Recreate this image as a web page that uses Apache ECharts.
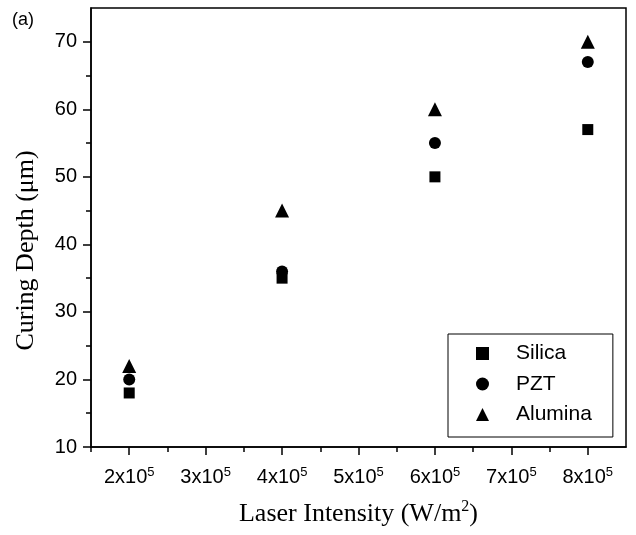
<!DOCTYPE html>
<html>
<head>
<meta charset="utf-8">
<title>Curing depth</title>
<script src="https://cdn.jsdelivr.net/npm/echarts@6/dist/echarts.min.js"></script>
<style>html,body{margin:0;padding:0;background:#fff;}</style>
</head>
<body>
<div id="main" style="width:636px;height:535px;"></div>
<script type="text/javascript">
// laser intensity in units of 1e5 W/m2
var intensity = [2, 4, 6, 8];
var silica = [18, 35, 50, 57];
var pzt = [20, 36, 55, 67];
var alumina = [22, 45, 60, 70];
var xMajor = [2, 3, 4, 5, 6, 7, 8];
var xMinor = [1.5, 2.5, 3.5, 4.5, 5.5, 6.5, 7.5];
var yMajor = [10, 20, 30, 40, 50, 60, 70];
var yMinor = [15, 25, 35, 45, 55, 65];

function pairs(vals){
    return intensity.map(function(x, i){ return [x, vals[i]]; });
}

var myChart = echarts.init(document.getElementById('main'));
var tickFont = {fontFamily: 'Liberation Sans', fontSize: 20, color: '#000'};
var lineStyle = {color: '#000', width: 1.5};
var black = {color: '#000', opacity: 1};

var option = {
    animation: false,
    grid: {left: 91, top: 8, right: 10, bottom: 88, show: true, borderColor: '#000', borderWidth: 1.5},
    graphic: [{type: 'text', left: 12, top: 11, style: {text: '(a)', font: '18px "Liberation Sans"', fill: '#000'}}],
    legend: {
        orient: 'vertical', left: 448, top: 334,
        itemWidth: 13, itemHeight: 13, itemGap: 9.5,
        padding: [9, 21, 12, 28],
        borderColor: '#000', borderWidth: 1,
        textStyle: {fontFamily: 'Liberation Sans', fontSize: 21, color: '#000', padding: [0, 0, 0, 22]},
        data: ['Silica', 'PZT', 'Alumina']
    },
    xAxis: [{
        type: 'value', min: 1.5, max: 8.5, interval: 0.5,
        splitLine: {show: false},
        axisLine: {lineStyle: lineStyle},
        axisTick: {length: 8, lineStyle: lineStyle, customValues: xMajor},
        axisLabel: {
            margin: 19, customValues: xMajor,
            formatter: function(v){ return '{b|' + v + 'x10}{s|5}'; },
            rich: {b: tickFont, s: {fontFamily: 'Liberation Sans', fontSize: 13, color: '#000', verticalAlign: 'top', padding: [0, 0, 10, 0]}}
        },
        name: '{a|Laser Intensity (W/m}{s|2}{a|)}',
        nameLocation: 'middle', nameGap: 52,
        nameTextStyle: {rich: {
            a: {fontFamily: 'Liberation Serif', fontSize: 26, color: '#000'},
            s: {fontFamily: 'Liberation Serif', fontSize: 16, color: '#000', padding: [0, 0, 14, 0]}
        }}
    }, {
        type: 'value', min: 1.5, max: 8.5, interval: 0.5, position: 'bottom',
        splitLine: {show: false},
        axisLine: {show: false},
        axisTick: {length: 5, lineStyle: lineStyle, customValues: xMinor},
        axisLabel: {show: false}
    }],
    yAxis: [{
        type: 'value', min: 10, max: 75, interval: 5,
        splitLine: {show: false},
        axisLine: {lineStyle: lineStyle},
        axisTick: {length: 8, lineStyle: lineStyle, customValues: yMajor},
        axisLabel: {margin: 14, customValues: yMajor, fontFamily: 'Liberation Sans', fontSize: 20, color: '#000'},
        name: 'Curing Depth (\u03bcm)',
        nameLocation: 'middle', nameGap: 52,
        nameTextStyle: {fontFamily: 'Liberation Serif', fontSize: 26, color: '#000', padding: [0, 46, 0, 0]}
    }, {
        type: 'value', min: 10, max: 75, interval: 5, position: 'left',
        splitLine: {show: false},
        axisLine: {show: false},
        axisTick: {length: 5, lineStyle: lineStyle, customValues: yMinor},
        axisLabel: {show: false}
    }],
    series: [
        {name: 'Silica', type: 'scatter', symbol: 'rect', symbolSize: 11, itemStyle: black, data: pairs(silica)},
        {name: 'PZT', type: 'scatter', symbol: 'circle', symbolSize: 12, itemStyle: black, data: pairs(pzt)},
        {name: 'Alumina', type: 'scatter', symbol: 'triangle', symbolSize: 14, itemStyle: black, data: pairs(alumina)}
    ]
};
myChart.setOption(option);
</script>
</body>
</html>
